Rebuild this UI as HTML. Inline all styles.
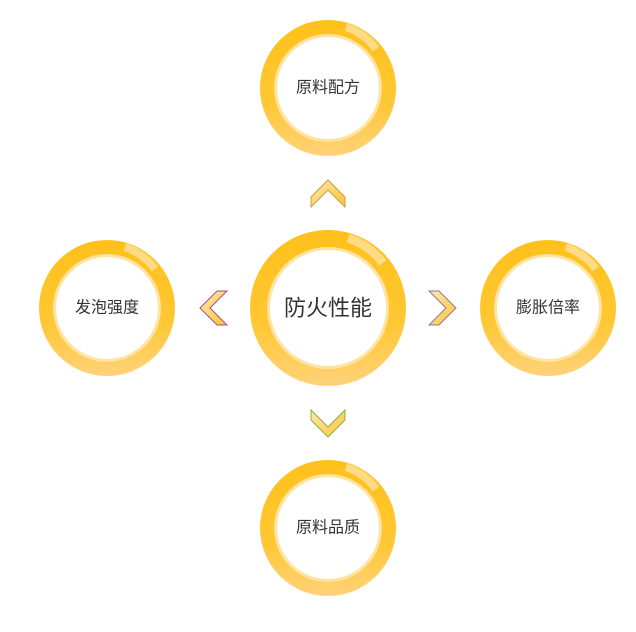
<!DOCTYPE html><html><head><meta charset="utf-8"><style>body{margin:0;background:#fff}svg{display:block}text{font-family:"Liberation Sans","Noto Sans CJK SC",sans-serif;fill:#333;text-anchor:middle;dominant-baseline:central}</style></head><body>
<svg width="636" height="632" viewBox="0 0 636 632">
<defs>
<linearGradient id="g" x1="0" y1="0" x2="0" y2="1"><stop offset="0" stop-color="#FFC01A"/><stop offset="0.6" stop-color="#FFC733"/><stop offset="1" stop-color="#FFD27A"/></linearGradient>
<linearGradient id="c" x1="0" y1="0" x2="1" y2="1"><stop offset="0" stop-color="#FFE9B0"/><stop offset="1" stop-color="#FFC233"/></linearGradient>
</defs>
<g transform="translate(328,308)"><circle r="78" fill="url(#g)"/><circle r="61" fill="#FFE3A0"/><circle r="58" fill="#fff"/><path d="M20,-70 A73,73 0 0 1 55,-45" stroke="#FFE6B0" stroke-width="9" fill="none" opacity=".7"/></g>
<g transform="translate(328,88)"><circle r="68" fill="url(#g)"/><circle r="54" fill="#FFE3A0"/><circle r="51" fill="#fff"/><path d="M18,-61 A63,63 0 0 1 48,-39" stroke="#FFE6B0" stroke-width="8" fill="none" opacity=".7"/></g>
<g transform="translate(107,308)"><circle r="68" fill="url(#g)"/><circle r="54" fill="#FFE3A0"/><circle r="51" fill="#fff"/><path d="M18,-61 A63,63 0 0 1 48,-39" stroke="#FFE6B0" stroke-width="8" fill="none" opacity=".7"/></g>
<g transform="translate(548,308)"><circle r="68" fill="url(#g)"/><circle r="54" fill="#FFE3A0"/><circle r="51" fill="#fff"/><path d="M18,-61 A63,63 0 0 1 48,-39" stroke="#FFE6B0" stroke-width="8" fill="none" opacity=".7"/></g>
<g transform="translate(328,528)"><circle r="68" fill="url(#g)"/><circle r="54" fill="#FFE3A0"/><circle r="51" fill="#fff"/><path d="M18,-61 A63,63 0 0 1 48,-39" stroke="#FFE6B0" stroke-width="8" fill="none" opacity=".7"/></g>
<path d="M328,180 L345,197 L345,207 L328,190 L311,207 L311,197Z" fill="url(#c)" stroke="#C8A040" stroke-width="1"/>
<path d="M328,437 L345,420 L345,410 L328,427 L311,410 L311,420Z" fill="url(#c)" stroke="#8CB040" stroke-width="1"/>
<path d="M200,308 L217,291 L227,291 L210,308 L227,325 L217,325Z" fill="url(#c)" stroke="#A0508A" stroke-width="1"/>
<path d="M456,308 L439,291 L429,291 L446,308 L429,325 L439,325Z" fill="url(#c)" stroke="#8A7AA0" stroke-width="1"/>
<text x="328" y="308" font-size="22">防火性能</text>
<text x="328" y="88" font-size="16">原料配方</text>
<text x="107" y="308" font-size="16">发泡强度</text>
<text x="548" y="308" font-size="16">膨胀倍率</text>
<text x="328" y="528" font-size="16">原料品质</text>
</svg></body></html>
